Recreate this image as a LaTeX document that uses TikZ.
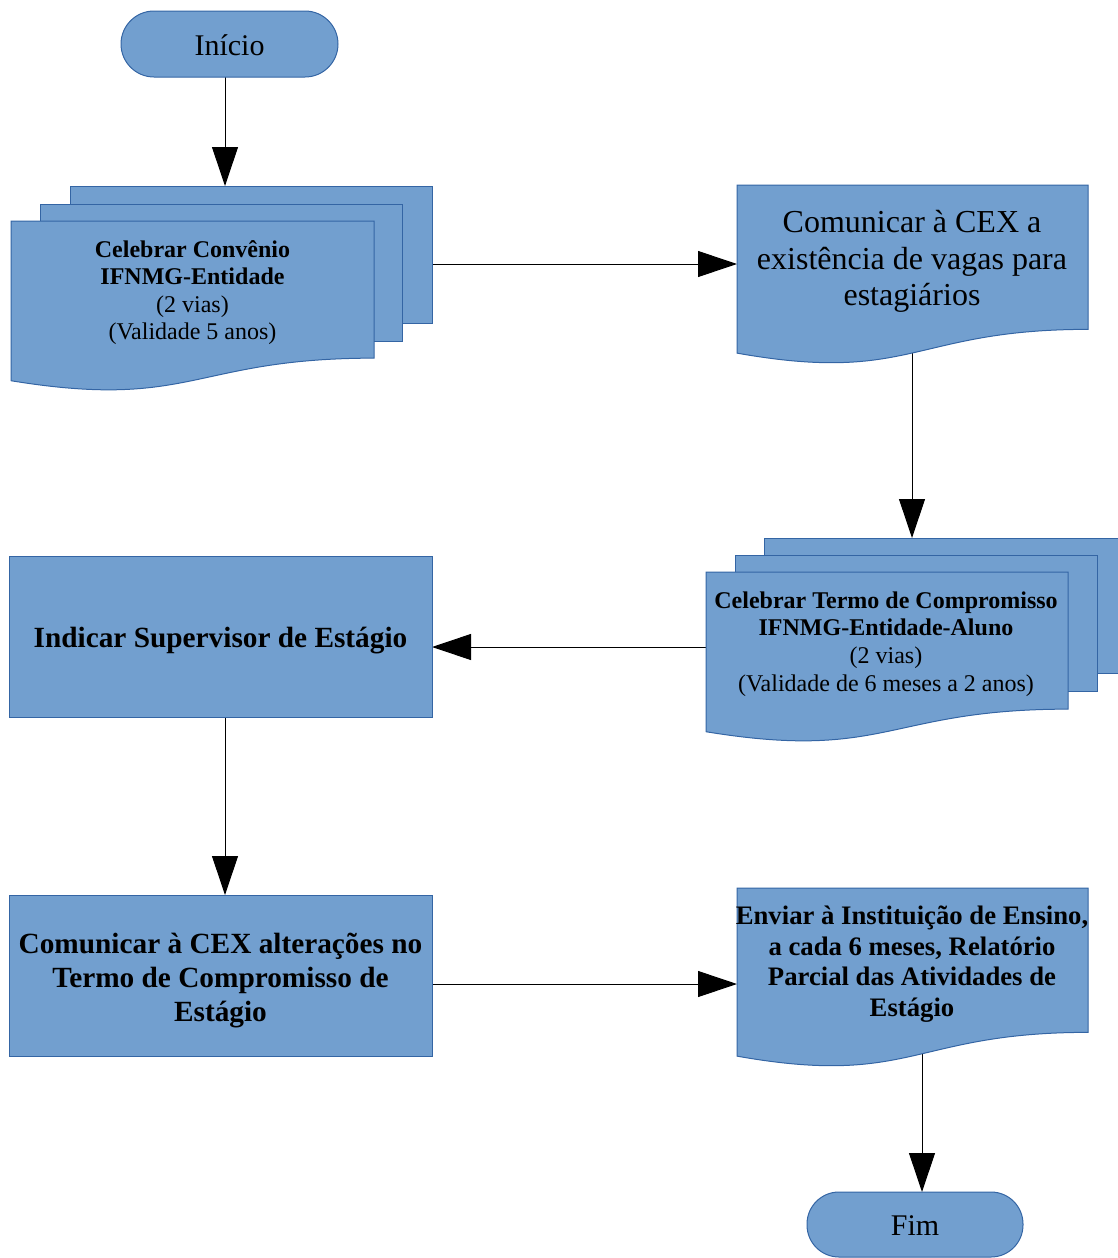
\documentclass[tikz,border=0pt]{standalone}
\usepackage{fontspec}
\setmainfont{Liberation Serif}
\usetikzlibrary{arrows.meta}
\definecolor{fillblue}{HTML}{729FCF}
\definecolor{lineblue}{HTML}{3465A4}
\tikzset{
  shapebox/.style={fill=fillblue, draw=lineblue, line width=1pt},
  conn/.style={draw=black, line width=1pt, -{Triangle[length=39pt,width=26pt]}},
  txt/.style={align=center, inner sep=0pt, text=black},
}
% x y w h
\newcommand\mydocshape[4]{%
  \path[shapebox] (#1,#2) -- ({#1+#3},#2) -- ({#1+#3},{#2+0.802*#4})
    .. controls ({#1+0.5*#3},{#2+0.802*#4}) and ({#1+0.5*#3},{#2+1.1075*#4}) ..
    (#1,{#2+0.934*#4}) -- cycle;}
\begin{document}
\begin{tikzpicture}[x=1pt,y=-1pt]
\useasboundingbox (0,0) rectangle (1118,1258);
% connection points
\coordinate (inicioS) at (225,77);
\coordinate (conv1N) at (225,186);
\coordinate (conv1E) at (432,264);
\coordinate (cexW) at (737,264);
\coordinate (cexS) at (912,352);
\coordinate (termoN) at (912,538);
\coordinate (termoW) at (706,647);
\coordinate (supE) at (432,647);
\coordinate (supS) at (225,717);
\coordinate (altN) at (225,895);
\coordinate (altE) at (432,984);
\coordinate (relW) at (737,984);
\coordinate (relS) at (922,1054);
\coordinate (fimN) at (922,1192);
% connectors
\draw[conn] (inicioS) -- (conv1N);
\draw[conn] (conv1E) -- (cexW);
\draw[conn] (cexS) -- (termoN);
\draw[conn] (termoW) -- (supE);
\draw[conn] (supS) -- (altN);
\draw[conn] (altE) -- (relW);
\draw[conn] (relS) -- (fimN);
% Inicio
\path[shapebox, rounded corners=33pt] (121,11) rectangle (338,77);
\node[txt, font=\fontsize{30}{34}\selectfont] (inicio) at (229.5,45) {Início};
% Convenio multi-document
\path[shapebox] (70,186) rectangle (432,323);
\path[shapebox] (40,204) rectangle (402,341);
\mydocshape{11}{221}{363}{171}
\node[txt, font=\fontsize{24}{27.6}\selectfont] (conv1) at (192.5,292.5)
  {\textbf{Celebrar Convênio}\\\textbf{IFNMG-Entidade}\\(2 vias)\\(Validade 5 anos)};
% Comunicar CEX
\mydocshape{737}{185}{351}{180}
\node[txt, font=\fontsize{32}{36.8}\selectfont] (cex) at (912,261.5)
  {Comunicar à CEX a\\existência de vagas para\\estagiários};
% Termo multi-document
\path[shapebox] (764,538) rectangle (1118,673);
\path[shapebox] (735,555) rectangle (1097,691);
\mydocshape{706}{572}{362}{171}
\node[txt, font=\fontsize{24}{27.6}\selectfont] (termo) at (886,644)
  {\textbf{Celebrar Termo de Compromisso}\\\textbf{IFNMG-Entidade-Aluno}\\(2 vias)\\(Validade de 6 meses a 2 anos)};
% Indicar supervisor
\path[shapebox] (9,556) rectangle (432,717);
\node[txt, font=\fontsize{29.3}{33.7}\selectfont\bfseries] (sup) at (220.5,641)
  {Indicar Supervisor de Estágio};
% Comunicar alteracoes
\path[shapebox] (9,895) rectangle (432,1056);
\node[txt, font=\fontsize{29.3}{33.7}\selectfont\bfseries] (alt) at (220.5,980.5)
  {Comunicar à CEX alterações no\\Termo de Compromisso de\\Estágio};
% Enviar relatorio
\mydocshape{737}{888}{351}{180}
\node[txt, font=\fontsize{26.7}{30.7}\selectfont\bfseries] (rel) at (912,964)
  {Enviar à Instituição de Ensino,\\a cada 6 meses, Relatório\\Parcial das Atividades de\\Estágio};
% Fim
\path[shapebox, rounded corners=32pt] (807,1192) rectangle (1023,1257);
\node[txt, font=\fontsize{30}{34}\selectfont] (fim) at (915,1226) {Fim};
\end{tikzpicture}
\end{document}
